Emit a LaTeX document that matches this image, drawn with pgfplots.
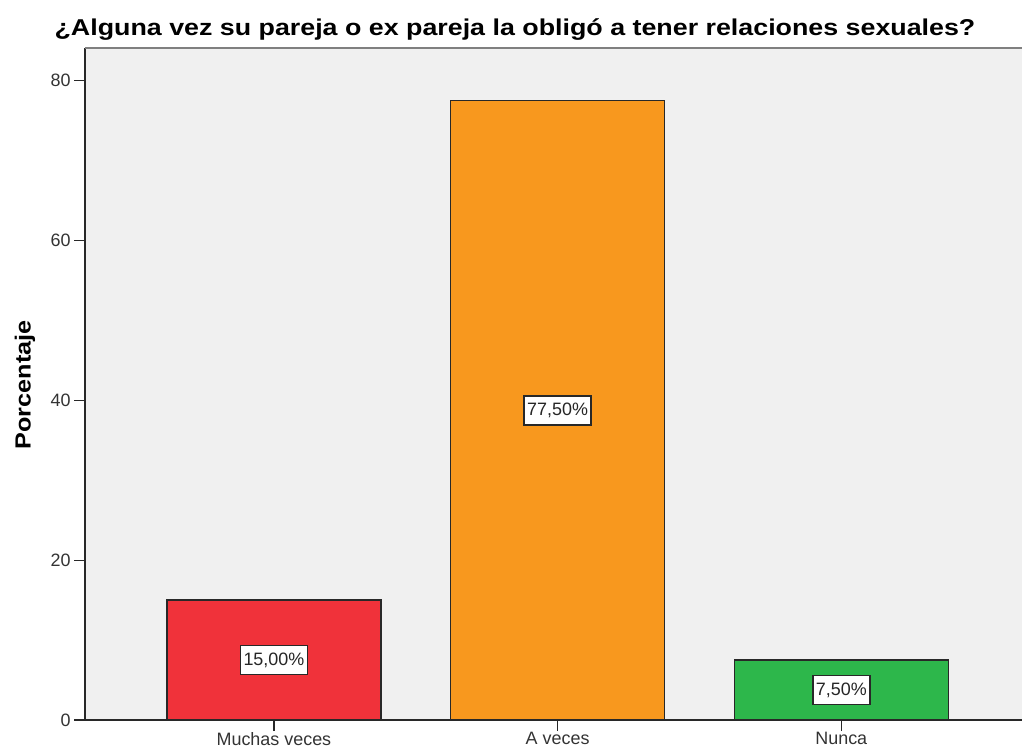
\documentclass[border=0pt]{standalone}
\usepackage{fontspec}
\setmainfont{Liberation Sans}
\usepackage{pgfplots}
\pgfplotsset{compat=1.18}

\definecolor{bgpanel}{RGB}{240,240,240}
\definecolor{barred}{RGB}{240,50,58}
\definecolor{barorange}{RGB}{248,152,30}
\definecolor{bargreen}{RGB}{45,183,75}
\definecolor{edge}{RGB}{40,40,40}

\begin{document}
\begin{tikzpicture}
% page = 1022 x 751 px, axis box lower left at (0,0)
\useasboundingbox (-85bp,-31bp) rectangle (937bp,720bp);
\begin{axis}[
  scale only axis, width=937bp, height=672bp,
  xmin=-0.666, xmax=2.637, ymin=0, ymax=84.1,
  axis x line=bottom, axis y line=left,
  axis line style={-, edge, line width=1.3bp},
  axis background/.style={fill=bgpanel},
  xtick={0,1,2}, xticklabels={Muchas veces, A veces, Nunca},
  ytick={0,20,40,60,80},
  tick style={edge, line width=1.3bp},
  major tick length=11bp,
  tick align=outside,
  ticklabel style={font=\fontsize{18}{21}\selectfont, text=black!80},
  xticklabel style={yshift=2bp},
  /pgf/number format/assume math mode=true,
  ybar, bar width=0.754,
  clip=false,
]
\addplot[fill=barred, draw=edge, line width=1.3bp, bar shift=0pt] coordinates {(0,15)};
\addplot[fill=barorange, draw=edge, line width=1.3bp, bar shift=0pt] coordinates {(1,77.5)};
\addplot[fill=bargreen, draw=edge, line width=1.3bp, bar shift=0pt] coordinates {(2,7.5)};
% value labels at half bar height
\addplot[draw=none, mark=none, forget plot,
  nodes near coords, point meta=explicit symbolic,
  every node near coord/.style={anchor=center, fill=white, draw=edge,
    line width=1.6bp, inner xsep=3bp, inner ysep=7bp,
    font=\fontsize{18}{21}\selectfont, text=black!85}]
  coordinates {(0,7.5)[15,00\%] (1,38.75)[77,50\%] (2,3.75)[7,50\%]};
\draw[black!50, line width=1.6bp] (axis cs:-0.666,84.1) -- (axis cs:2.637,84.1);
\end{axis}
\node[font=\bfseries\fontsize{23}{26}\selectfont] at (430bp,690bp)
  {\scalebox{1.17}[1]{¿Alguna vez su pareja o ex pareja la obligó a tener relaciones sexuales?}};
\node[font=\bfseries\fontsize{22}{25}\selectfont, rotate=90] at (-60bp,335bp)
  {\scalebox{1.15}[1]{Porcentaje}};
\end{tikzpicture}
\end{document}
